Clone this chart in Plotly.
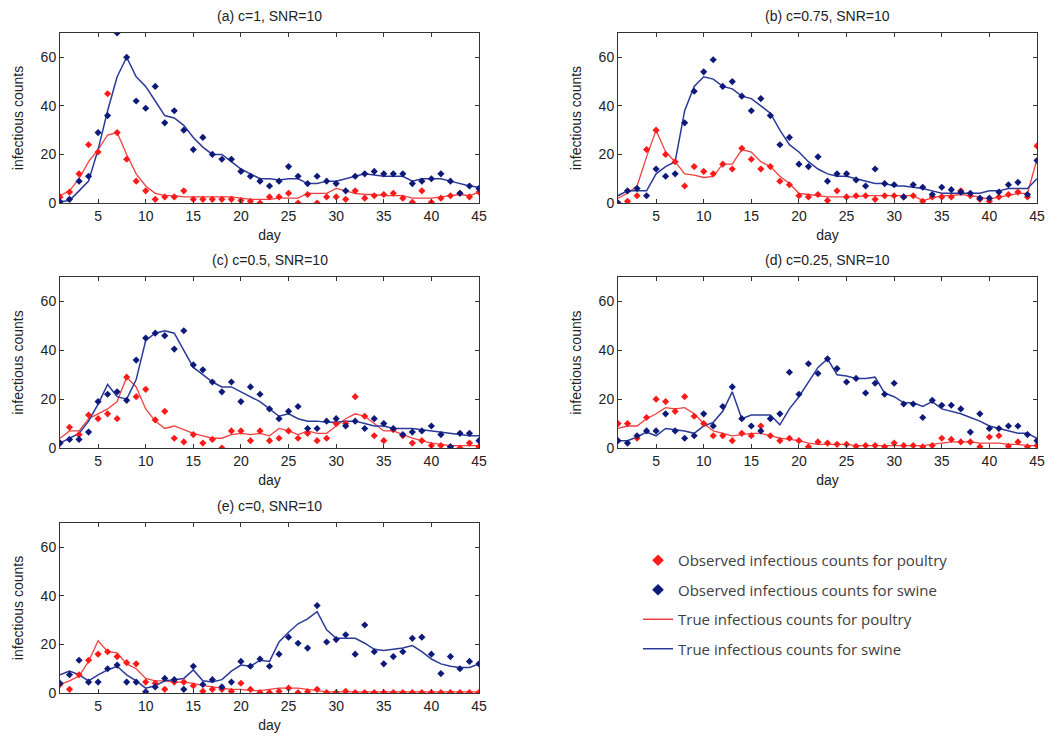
import plotly.graph_objects as go

days = list(range(1, 46))

# ---- panel (a) c=1 ----
a_obs_poultry = [2.5, 4.5, 12, 24, 21, 45, 29, 18, 9, 5, 1.5, 2.5, 2.5, 5, 1.5, 1.5, 1.5, 1.5, 1.5, 1, 0.7, 0, 2.5, 2.5, 4,
                 0, 3.5, 0, 2.5, 2.5, 1.5, 5, 2, 3, 3.5, 4, 2, 0.3, 5, 0.3, 2, 3, 4, 2.5, 4.5]
a_obs_swine = [0.5, 1.5, 9, 11, 29, 36, 70, 60, 42, 39, 48, 33, 38, 30, 22, 27, 20, 18, 18, 13, 11, 9, 7, 9, 15,
               11, 8, 11, 9, 8, 5, 11, 12, 13, 12, 12, 12, 8, 9, 10, 12, 9, 4, 7, 6]
a_true_poultry = [3, 5, 10, 17, 22, 28, 29, 20, 12, 7, 4, 3, 3, 2.5, 2.5, 2.5, 2.5, 2.5, 2.5, 2, 1.5, 1.5, 1.5, 2, 2,
                  2, 4, 4, 4, 6, 5, 4, 3.5, 3.5, 3, 3, 3, 2, 2, 2, 2.5, 3, 3.5, 3, 4.5]
a_true_swine = [0.5, 1, 5, 9, 22, 38, 52, 60, 52, 48, 42, 36, 35, 32, 27, 23, 20, 20, 17, 14, 12, 10, 10, 9.5, 10,
                10, 8, 8, 9, 9, 10, 11, 12, 11.5, 11, 11, 11, 9, 10, 10, 10, 9, 8, 7, 6.5]

# ---- panel (b) c=0.75 ----
b_obs_poultry = [0, 0.7, 3, 22, 30, 20, 17, 7, 15, 13, 12, 16, 14, 22.5, 18, 14, 15, 9, 7.5, 3, 2.5, 3.5, 1, 5, 2.5,
                 3, 3, 1.5, 3, 3, 2.5, 3, 0.7, 2.5, 2.5, 2.5, 5, 3, 1.5, 0.7, 2.5, 3.5, 4.5, 2.5, 23.5]
b_obs_swine = [0, 5, 6, 3, 14, 11, 12, 33, 46, 54, 59, 48, 50, 44, 38, 43, 36, 24, 27, 16, 15, 19, 9, 12, 12,
               9.5, 7, 14, 8, 7.5, 2.5, 7.5, 6.5, 3.5, 6.5, 5.5, 4.5, 4, 2, 2, 4.5, 7.5, 8.5, 3.5, 17.5]
b_true_poultry = [2, 4, 7, 19, 30, 21, 17, 12, 11.5, 10.5, 11, 16, 16, 22, 21, 17, 15, 11, 8, 4, 3.5, 3, 2.5, 2.5, 2.5,
                  2.5, 3, 3, 3, 3, 3, 3, 1, 2, 3, 3, 3.5, 3, 2.5, 1.5, 2.5, 3, 4, 4, 18]
b_true_swine = [3, 5, 5, 5, 12, 15, 17, 38, 48, 52, 51, 48, 47, 44, 43, 40, 37, 30, 24, 21, 17, 14, 12, 11, 11,
                10, 9, 8, 8, 7, 7, 6.5, 6, 5, 4, 4, 4, 4, 4, 5, 5, 6, 6, 6, 10]

# ---- panel (c) c=0.5 ----
c_obs_poultry = [2, 8.5, 5.5, 13.5, 12, 14, 12, 29, 21, 24, 11.5, 15, 4, 2.5, 5.5, 2, 3.5, 0, 7, 7, 3, 7, 3, 4, 7,
                 4, 6, 3, 4, 10, 10, 21, 13, 5, 3, 7.5, 5, 2, 3, 1, 1, 0.5, 0, 2, 0.5]
c_obs_swine = [2, 3.5, 3.5, 6.5, 19, 22, 23, 19.5, 36, 45, 47, 46, 40.5, 48, 34, 32, 27, 23, 27, 19, 25, 22, 16, 12, 15,
               17, 8, 8, 11, 12, 9, 11, 8, 12, 10, 8, 5.5, 6.5, 7, 9, 5.5, 0.5, 6, 6, 3]
c_true_poultry = [4, 7, 7, 12, 14, 16, 19, 29, 25, 16, 11, 8, 9, 7.5, 6, 5, 4, 4, 5.5, 6, 5.5, 6, 5, 8, 7,
                  5.5, 7, 6, 6, 9, 12, 14, 13, 10, 7, 7, 5.5, 4, 3, 2, 1.5, 1, 1, 1, 1]
c_true_swine = [2, 4, 6, 11, 18, 26, 21, 20, 28, 44, 47, 48, 47, 40, 33, 30, 27, 25, 25, 23, 21, 19, 16, 13, 14,
                12, 11, 11, 10.5, 10.5, 11, 11, 10, 9, 9, 8, 8, 8, 7.5, 7, 6.5, 6, 5.5, 5, 5]

# ---- panel (d) c=0.25 ----
d_obs_poultry = [10, 10, 4, 12.5, 20, 19, 15, 21, 13, 10, 5, 5, 3, 6, 5, 9, 5, 3, 4, 3, 0.5, 2.5, 2, 1.5, 1.5,
                 0.7, 1, 1, 0.5, 2, 1, 1, 0.5, 1, 4, 3.5, 2.5, 2.5, 0.5, 4.5, 5, 0.7, 2.5, 0.5, 1]
d_obs_swine = [3, 2, 5, 7, 7, 14, 7, 4, 5, 14, 9, 17, 25, 12, 9, 7, 12, 14, 31, 22, 34.5, 30.5, 36.5, 32.5, 27,
               28.5, 22.5, 26.5, 22, 26.5, 18, 18, 12.5, 19.5, 17.5, 17.5, 16, 6.5, 14, 8, 8, 9, 9, 5.5, 3]
d_true_poultry = [8, 9, 9, 12, 14, 16.5, 16, 16.5, 14, 10, 7, 6, 5, 5.5, 6, 6, 5, 4, 3.5, 3, 2, 1.5, 1.5, 1.5, 1.5,
                  1, 1, 1, 1, 1, 1, 1, 1, 1.5, 2, 2.5, 2.5, 2.5, 2, 2, 2, 1.5, 1.5, 1, 1]
d_true_swine = [3, 3, 4.5, 6.5, 5, 8, 7.5, 7, 6, 9, 10.5, 15, 23, 12, 13.5, 13.5, 13.5, 9.5, 16, 21, 27, 33, 36.5, 30, 29.5,
                28.5, 28.5, 29, 22.5, 21, 18.5, 18.5, 17, 19, 16, 15, 14, 12.5, 11, 9, 8, 7, 6, 6, 4]

# ---- panel (e) c=0 ----
e_obs_poultry = [3.5, 1.5, 7.5, 13.5, 16, 17, 15, 12.5, 12, 4.5, 4, 1.5, 4.5, 4.5, 3, 0.7, 1.5, 1.5, 0.7, 4, 1.5, 0.2, 0.2, 0.7, 2,
                 0.2, 0.5, 1.5, 0.2, 0.2, 0.7, 0.2, 0.2, 0.2, 0.2, 0.2, 0.2, 0.2, 0.2, 0.2, 0.2, 0.2, 0.2, 0.2, 0.2]
e_obs_swine = [4, 7.5, 13.5, 4.5, 4.5, 10, 11.5, 4.5, 4.5, 0.5, 2.5, 6, 5.5, 1.5, 11, 3.5, 5.5, 2.5, 4.5, 13, 11, 14, 11, 16, 23,
               20.5, 18.5, 36, 21, 22, 24, 16, 28, 17, 12, 15, 17, 22.5, 23, 16, 8, 15, 10, 13, 12]
e_true_poultry = [3.5, 5, 7, 13, 21.5, 17, 16.5, 12, 10, 6, 5, 5, 4.5, 4.5, 4, 3, 2.5, 2, 1.5, 1.5, 1, 1, 1.5, 2, 2,
                  2, 1.5, 1, 0.5, 0.5, 0.5, 0.5, 0.5, 0.5, 0.5, 0.5, 0.5, 0.5, 0.5, 0.5, 0.5, 0.5, 0.5, 0.5, 0.5]
e_true_swine = [7.5, 9, 7.5, 5, 7.5, 9.5, 11, 7.5, 5, 2, 3, 5, 5.5, 6, 9.5, 5, 4.5, 5.5, 9, 11.5, 11, 13.5, 13, 21, 25,
                28.5, 30.5, 33.5, 26, 22.5, 22.5, 22.5, 20.5, 18, 17.5, 18, 18.5, 19.5, 17, 14, 12, 11, 10.5, 10.5, 12]

panel_titles = ["(a) c=1, SNR=10", "(b) c=0.75, SNR=10", "(c) c=0.5, SNR=10",
                "(d) c=0.25, SNR=10", "(e) c=0, SNR=10"]
series_names = ["Observed infectious counts for poultry", "Observed infectious counts for swine",
                "True infectious counts for poultry", "True infectious counts for swine"]
y_ticks = [0, 20, 40, 60]
x_ticks = [5, 10, 15, 20, 25, 30, 35, 40, 45]

panels = [
    (a_obs_poultry, a_obs_swine, a_true_poultry, a_true_swine),
    (b_obs_poultry, b_obs_swine, b_true_poultry, b_true_swine),
    (c_obs_poultry, c_obs_swine, c_true_poultry, c_true_swine),
    (d_obs_poultry, d_obs_swine, d_true_poultry, d_true_swine),
    (e_obs_poultry, e_obs_swine, e_true_poultry, e_true_swine),
]

W, H = 1059, 744
OFF = 8  # page body margin
# pixel boxes in the window (left, right, top, bottom)
boxes = [(60, 479, 33, 203), (618, 1037, 33, 203),
         (60, 479, 277, 448), (618, 1037, 277, 448),
         (60, 479, 523, 693)]


def px(x):
    return (x - OFF) / W


def py(y):
    return 1 - (y - OFF) / H


RED_DOT = "#ff1a1a"
BLUE_DOT = "#0d1a7a"
RED_LINE = "#f04040"
BLUE_LINE = "#2b3a98"
FONT = "Liberation Sans, Arial, sans-serif"
TXT = "#222222"

fig = go.Figure()
layout = dict(width=W, height=H, margin=dict(l=0, r=0, t=0, b=0, autoexpand=False),
              paper_bgcolor="white", plot_bgcolor="white", annotations=[])

# legend-only entries (diamond markers / short lines)
fig.add_trace(go.Scatter(x=[None], y=[None], mode="markers",
                         marker=dict(symbol="diamond", size=9, color=RED_DOT),
                         name=series_names[0], legendgroup="g1", showlegend=True, legendrank=1))
fig.add_trace(go.Scatter(x=[None], y=[None], mode="markers",
                         marker=dict(symbol="diamond", size=9, color=BLUE_DOT),
                         name=series_names[1], legendgroup="g2", showlegend=True, legendrank=2))
fig.add_trace(go.Scatter(x=[None], y=[None], mode="lines", line=dict(color=RED_LINE, width=1.5),
                         name=series_names[2], legendgroup="g3", showlegend=True, legendrank=3))
fig.add_trace(go.Scatter(x=[None], y=[None], mode="lines", line=dict(color=BLUE_LINE, width=1.5),
                         name=series_names[3], legendgroup="g4", showlegend=True, legendrank=4))

for i, (obs_p, obs_s, true_p, true_s) in enumerate(panels):
    n = "" if i == 0 else str(i + 1)
    xa, ya = "x" + n, "y" + n
    fig.add_trace(go.Scatter(x=days, y=true_p, mode="lines", line=dict(color=RED_LINE, width=1.3),
                             name=series_names[2], legendgroup="g3", showlegend=False,
                             xaxis=xa, yaxis=ya))
    fig.add_trace(go.Scatter(x=days, y=true_s, mode="lines", line=dict(color=BLUE_LINE, width=1.5),
                             name=series_names[3], legendgroup="g4", showlegend=False,
                             xaxis=xa, yaxis=ya))
    fig.add_trace(go.Scatter(x=days, y=obs_p, mode="markers",
                             marker=dict(symbol="diamond", size=5.5, color=RED_DOT),
                             name=series_names[0], legendgroup="g1", showlegend=False,
                             xaxis=xa, yaxis=ya))
    fig.add_trace(go.Scatter(x=days, y=obs_s, mode="markers",
                             marker=dict(symbol="diamond", size=5.5, color=BLUE_DOT),
                             name=series_names[1], legendgroup="g2", showlegend=False,
                             xaxis=xa, yaxis=ya))

    l, r, t, b = boxes[i]
    xdom = [px(l), px(r)]
    ydom = [py(b), py(t)]
    axis_common = dict(showline=True, linecolor="#333333", linewidth=1, mirror="ticks",
                       ticks="inside", ticklen=4, tickcolor="#333333", showgrid=False, zeroline=False,
                       automargin=False, tickfont=dict(family=FONT, size=14, color=TXT))
    layout["xaxis" + n] = dict(axis_common, domain=xdom, range=[1, 45], tickvals=x_ticks,
                               anchor=ya, title=dict(text="day", font=dict(family=FONT, size=14, color=TXT),
                                                     standoff=7))
    layout["yaxis" + n] = dict(axis_common, domain=ydom, range=[0, 70], tickvals=y_ticks,
                               anchor=xa, title=dict(text="infectious counts",
                                                     font=dict(family=FONT, size=14, color=TXT),
                                                     standoff=13))
    layout["annotations"].append(dict(text=panel_titles[i], x=(xdom[0] + xdom[1]) / 2, y=ydom[1],
                                      xref="paper", yref="paper", xanchor="center", yanchor="bottom",
                                      yshift=7, showarrow=False,
                                      font=dict(family=FONT, size=14, color=TXT)))

layout["legend"] = dict(x=px(638), y=py(544), xanchor="left", yanchor="top",
                        font=dict(family="Open Sans, sans-serif", size=15, color="#404040"),
                        tracegroupgap=7, bgcolor="rgba(0,0,0,0)", itemwidth=30)
fig.update_layout(**layout)
fig.write_html("out.html")
